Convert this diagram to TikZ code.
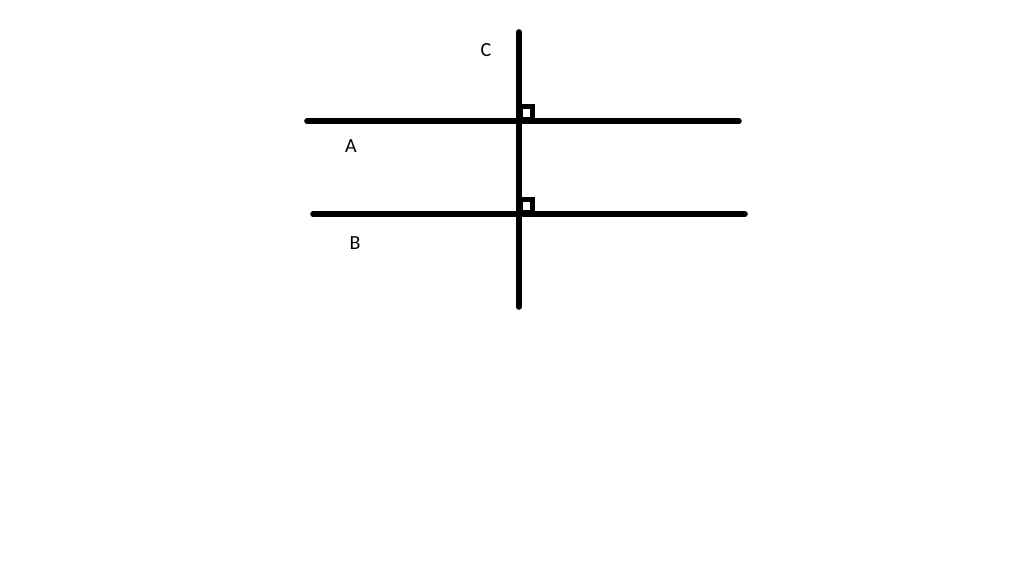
\documentclass[tikz,border=0pt]{standalone}
\usepackage{fontspec}
\setsansfont{Carlito}
\usepackage{tikz}

\begin{document}
\begin{tikzpicture}[line cap=round, line join=round, x=0.5pt, y=-0.5pt,
    linestroke/.style={line width=2.8pt},
    rightangle/.style={line width=2.4pt, line cap=butt, line join=miter},
    letter/.style={font=\sffamily\fontsize{10pt}{12pt}\selectfont, inner sep=0pt, text=black}]

                \useasboundingbox (0,0) rectangle (1024,561);

                \coordinate (aw) at (307,121);
                \coordinate (ae) at (739,121);
                \coordinate (bw) at (313,214);
                \coordinate (be) at (745,214);
                \coordinate (cn) at (519,32);
                \coordinate (cs) at (519,307);

                \draw[linestroke] (aw) -- (ae);
                \draw[linestroke] (bw) -- (be);
                \draw[linestroke] (cn) -- (cs);

                \coordinate (ca) at (519,121);
                \coordinate (cb) at (519,214);
                \draw[rightangle] ([shift={(2,-2)}]ca) rectangle ([shift={(13.5,-14.5)}]ca);
                \draw[rightangle] ([shift={(2,-2)}]cb) rectangle ([shift={(13.5,-14.5)}]cb);

                \node[letter] (labelc) at (486,50) {C};
                \node[letter] (labela) at (351,146) {A};
                \node[letter] (labelb) at (355,243) {B};

\end{tikzpicture}
\end{document}
